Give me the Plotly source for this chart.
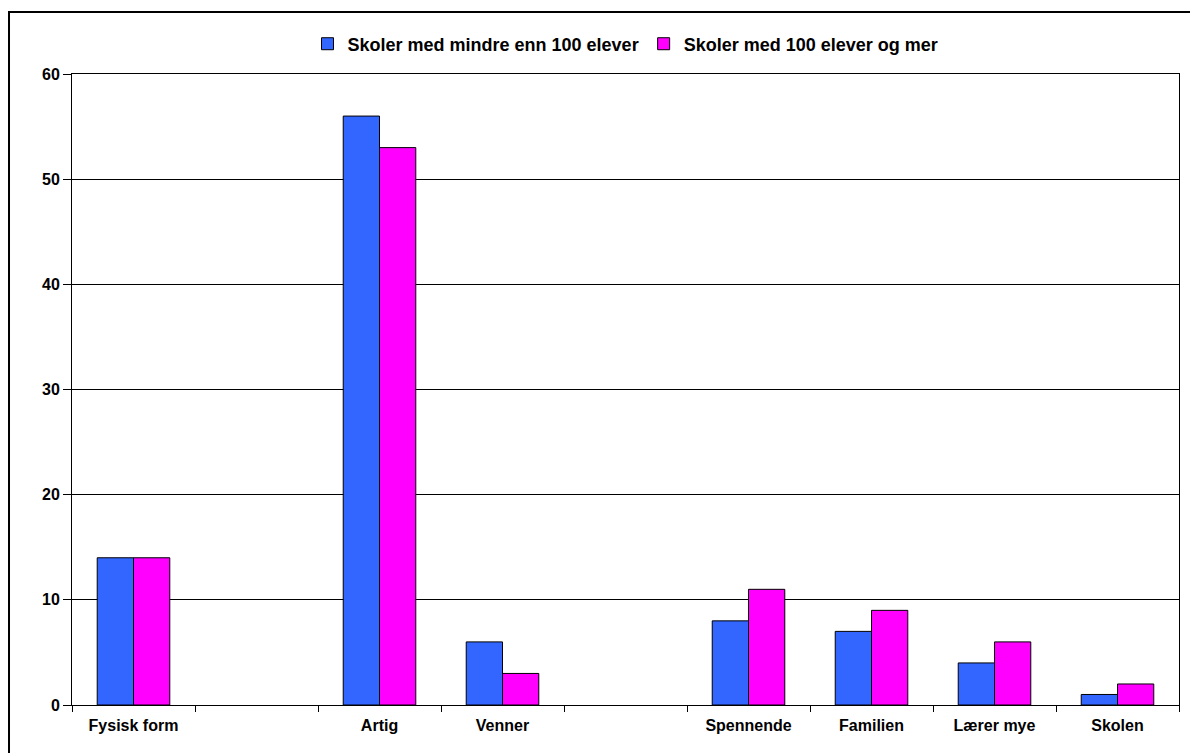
import plotly.graph_objects as go

categories = ["Fysisk form", " ", "Artig", "Venner", "  ", "Spennende", "Familien", "Lærer mye", "Skolen"]
small_schools = [14, None, 56, 6, None, 8, 7, 4, 1]
large_schools = [14, None, 53, 3, None, 11, 9, 6, 2]
series_names = ["Skoler med mindre enn 100 elever", "Skoler med 100 elever og mer"]
y_ticks = [0, 10, 20, 30, 40, 50, 60]

FONT = "Arial, 'Liberation Sans', sans-serif"

fig = go.Figure()
fig.add_trace(go.Bar(x=categories, y=small_schools, name=series_names[0],
                     marker=dict(color="#3366FF", line=dict(color="black", width=1))))
fig.add_trace(go.Bar(x=categories, y=large_schools, name=series_names[1],
                     marker=dict(color="#FF00FF", line=dict(color="black", width=1))))

fig.update_layout(
    width=1190, height=745,
    margin=dict(l=64, r=19, t=66, b=48),
    paper_bgcolor="white", plot_bgcolor="white",
    barmode="group", bargap=0.41, bargroupgap=0,
    font=dict(family=FONT, color="black"),
    legend=dict(orientation="h", x=0.5, xanchor="center", y=1.0475, yanchor="middle",
                font=dict(size=18, family=FONT, weight="bold"),
                itemwidth=30, tracegroupgap=0),
    showlegend=True,
)
fig.update_xaxes(type="category", categoryorder="array", categoryarray=categories,
                 showline=True, linecolor="black", linewidth=1, mirror=True,
                 ticks="outside", tickson="boundaries", ticklen=6, tickcolor="black",
                 ticklabelstandoff=6,
                 tickfont=dict(size=16, family=FONT, weight="bold"),
                 showgrid=False)
fig.update_yaxes(range=[0, 60], tickvals=y_ticks, showline=True, linecolor="black",
                 linewidth=1, mirror=True, ticks="outside", ticklen=8, tickcolor="black",
                 showgrid=True, gridcolor="black", gridwidth=1, zeroline=False,
                 tickfont=dict(size=16, family=FONT, weight="bold"))

# outer chart border (its right and bottom sides fall outside the picture)
fig.add_shape(type="rect", xref="paper", yref="paper",
              x0=-0.0569, x1=1.2, y0=-0.3, y1=1.0982,
              line=dict(color="black", width=2), fillcolor="rgba(0,0,0,0)", layer="below")

fig.write_html("out.html")
